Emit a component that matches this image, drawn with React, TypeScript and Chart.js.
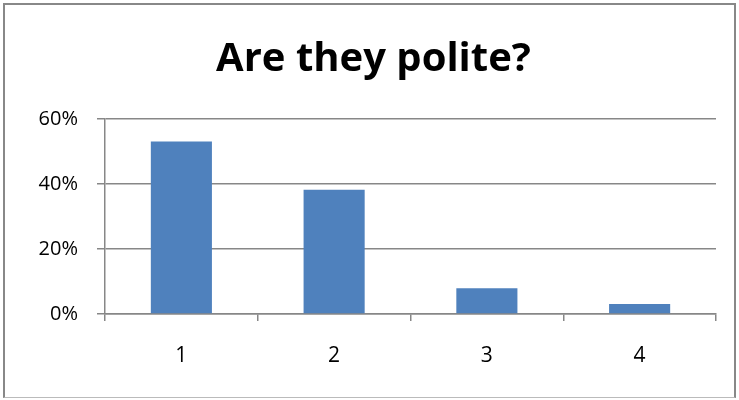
import React, { useEffect, useRef } from "react";
import { Chart, registerables } from "chart.js";

Chart.register(...registerables);

const categories = ["1", "2", "3", "4"];
const values = [0.531, 0.382, 0.079, 0.031];
const yTicks = [0, 0.2, 0.4, 0.6];
const titleText = "Are they polite?";

export default function App() {
  const ref = useRef<HTMLCanvasElement | null>(null);
  useEffect(() => {
    if (!ref.current) return;
    const chart = new Chart(ref.current, {
      type: "bar",
      data: {
        labels: categories,
        datasets: [
          {
            data: values,
            backgroundColor: "#4F81BD",
            borderWidth: 0,
            categoryPercentage: 0.8,
            barPercentage: 0.5,
          },
        ],
      },
      options: {
        animation: false,
        responsive: false,
        maintainAspectRatio: false,
        layout: { padding: { left: 8, right: 0, top: 0, bottom: 0 } },
        plugins: {
          legend: { display: false },
          tooltip: { enabled: false },
          title: {
            display: true,
            text: titleText,
            color: "#000",
            font: { family: "Open Sans", size: 40, weight: "bold", lineHeight: 1.2 },
            padding: { top: 36, bottom: 35 },
          },
        },
        scales: {
          x: {
            offset: true,
            grid: { offset: true, drawOnChartArea: false, color: "#878787", tickLength: 7, lineWidth: 1.5 },
            border: { color: "#878787", width: 1.5 },
            ticks: { color: "#000", font: { family: "Open Sans", size: 21 }, padding: 22 },
            afterFit: (s: any) => { s.height = 86; },
          },
          y: {
            min: 0,
            max: 0.6,
            afterBuildTicks: (s: any) => { s.ticks = yTicks.map((v) => ({ value: v })); },
            grid: { color: "#878787", tickLength: 8, lineWidth: 1.5 },
            border: { color: "#878787", width: 1.5 },
            ticks: {
              color: "#000",
              font: { family: "Open Sans", size: 20 },
              padding: 19,
              callback: (v: any) => Math.round(Number(v) * 100) + "%",
            },
            afterFit: (s: any) => { s.width = 97; },
          },
          yPad: {
            position: "right",
            display: true,
            grid: { display: false, drawOnChartArea: false },
            border: { display: false },
            ticks: { display: false },
            afterFit: (s: any) => { s.width = 23; },
          },
        },
      },
    });
    return () => chart.destroy();
  }, []);
  return (
    <div style={{ position: "fixed", left: 0, top: 0, width: 739, height: 400, background: "#fff" }}>
      <canvas ref={ref} width={739} height={400} style={{ position: "absolute", left: 0, top: 0 }} />
      <div
        style={{
          position: "absolute",
          left: 3,
          top: 3,
          width: 733,
          height: 395,
          borderLeft: "2px solid #888",
          borderTop: "2px solid #888",
          borderRight: "2px solid #888",
          borderBottom: "1px solid #bbb",
          boxSizing: "border-box",
          pointerEvents: "none",
        }}
      />
    </div>
  );
}
